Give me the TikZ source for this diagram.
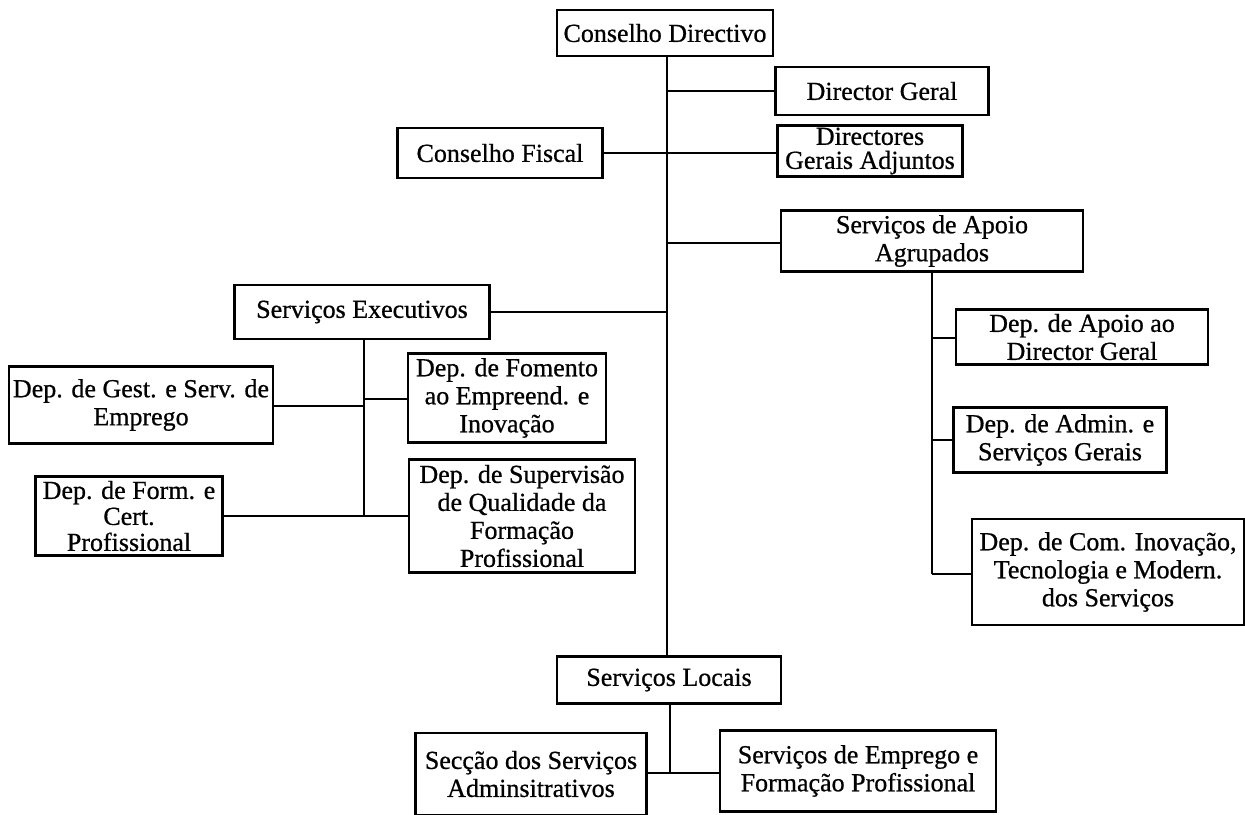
\documentclass[tikz,border=0pt]{standalone}
\usepackage{fontspec}
\setmainfont{Liberation Serif}
\newfontfamily\heavyserif[FakeBold=0.7]{Liberation Serif}
\begin{document}
\begin{tikzpicture}[x=0.5pt,y=-0.5pt,
  box/.style={draw=black,line width=1.4pt,fill=white,align=center,inner sep=1pt,
    font=\heavyserif\fontsize{13}{14}\selectfont},
  conn/.style={line width=1.4pt,draw=black}]
\useasboundingbox (0,0) rectangle (1245,814);
% nodes
\node[box,minimum width=108pt,minimum height=23pt] (cd) at (665,33) {Conselho Directivo};
\node[box,minimum width=106.5pt,minimum height=24pt] (dg) at (882,91) {Director Geral};
\node[box,minimum width=102.5pt,minimum height=25pt] (cf) at (500,153) {Conselho Fiscal};
\node[box,minimum width=92.5pt,minimum height=24pt] (dga) at (870,151) {Directores\\[-2pt]Gerais Adjuntos};
\node[box,minimum width=151pt,minimum height=30.5pt] (sa) at (932,241) {Serviços de Apoio\\Agrupados};
\node[box,minimum width=127.5pt,minimum height=27pt] (se) at (362,312) {Serviços Executivos};
\node[box,minimum width=132pt,minimum height=38.5pt] (dgs) at (141,405) {Dep. de Gest. e Serv. de\\Emprego};
\node[box,minimum width=99pt,minimum height=44.5pt] (dfe) at (507,398) {Dep. de Fomento\\ao Empreend. e\\Inovação};
\node[box,minimum width=93.5pt,minimum height=39.5pt] (dfc) at (129,516) {Dep. de Form. e\\[-1pt]Cert.\\[-1pt]Profissional};
\node[box,minimum width=113pt,minimum height=56.5pt] (dsq) at (522,516) {Dep. de Supervisão\\de Qualidade da\\Formação\\Profissional};
\node[box,minimum width=126pt,minimum height=27.5pt] (dad) at (1082,337) {Dep. de Apoio ao\\Director Geral};
\node[box,minimum width=106.5pt,minimum height=32.5pt] (das) at (1060,440) {Dep. de Admin. e\\Serviços Gerais};
\node[box,minimum width=136pt,minimum height=53pt] (dci) at (1108,572) {Dep. de Com. Inovação,\\Tecnologia e Modern.\\dos Serviços};
\node[box,minimum width=112pt,minimum height=23.5pt] (sl) at (669,680) {Serviços Locais};
\node[box,minimum width=115.5pt,minimum height=41pt] (ssa) at (531,774) {Secção dos Serviços\\Adminsitrativos};
\node[box,minimum width=138pt,minimum height=40.5pt] (sef) at (858,771) {Serviços de Emprego e\\Formação Profissional};
% coordinates
\coordinate (m1) at (667,91);
\coordinate (m2) at (667,243);
\coordinate (m3) at (667,312);
\coordinate (e1) at (364,406);
\coordinate (e2) at (364,399);
\coordinate (e3) at (364,516);
\coordinate (a1) at (932,338);
\coordinate (a2) at (932,440);
\coordinate (a3) at (932,574);
\coordinate (l1) at (670,773);
% connectors
\draw[conn] (cd.south -| m1) -- (sl.north -| m1);
\draw[conn] (m1) -- (m1 -| dg.west);
\draw[conn] (cf.east) -- (cf.east -| dga.west);
\draw[conn] (m2) -- (m2 -| sa.west);
\draw[conn] (se.east |- m3) -- (m3);
\draw[conn] (se.south -| e1) -- (e3);
\draw[conn] (e1 -| dgs.east) -- (e1);
\draw[conn] (e2) -- (e2 -| dfe.west);
\draw[conn] (e3 -| dfc.east) -- (e3 -| dsq.west);
\draw[conn] (sa.south -| a1) -- (a3);
\draw[conn] (a1) -- (a1 -| dad.west);
\draw[conn] (a2) -- (a2 -| das.west);
\draw[conn] (a3) -- (a3 -| dci.west);
\draw[conn] (sl.south -| l1) -- (l1);
\draw[conn] (l1 -| ssa.east) -- (l1 -| sef.west);
\end{tikzpicture}
\end{document}
